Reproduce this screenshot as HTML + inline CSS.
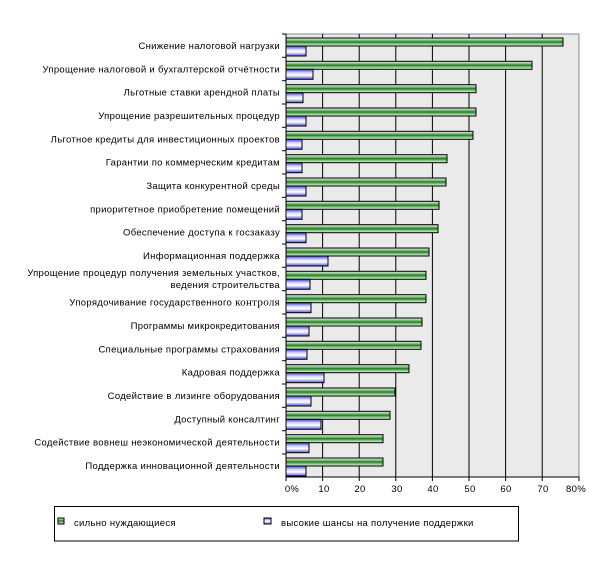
<!DOCTYPE html>
<html><head><meta charset="utf-8"><style>
html,body{margin:0;padding:0;background:#fff;width:601px;height:572px;overflow:hidden}
svg text{font-family:"Liberation Sans",Arial,sans-serif;font-size:9.5px;fill:#000;letter-spacing:0.3px}
</style></head><body>
<svg width="601" height="572" viewBox="0 0 601 572" xmlns="http://www.w3.org/2000/svg">
<defs>
<linearGradient id="g" x1="0" y1="0" x2="0" y2="1">
<stop offset="0" stop-color="#e8f5e8"/><stop offset="0.3" stop-color="#7fbf7f"/><stop offset="0.5" stop-color="#1f7a1f"/><stop offset="0.7" stop-color="#7fbf7f"/><stop offset="1" stop-color="#e8f5e8"/>
</linearGradient>
<linearGradient id="b" x1="0" y1="0" x2="0" y2="1">
<stop offset="0" stop-color="#3a3ad8"/><stop offset="0.35" stop-color="#d8d8ff"/><stop offset="0.6" stop-color="#ffffff"/><stop offset="1" stop-color="#5050e0"/>
</linearGradient>
</defs>
<rect x="286" y="34" width="293" height="443" fill="#eaeaea" stroke="#888" stroke-width="1"/>
<g stroke="#000" stroke-width="1">
<line x1="322.6" y1="34" x2="322.6" y2="477"/><line x1="359.2" y1="34" x2="359.2" y2="477"/>
<line x1="395.8" y1="34" x2="395.8" y2="477"/><line x1="432.4" y1="34" x2="432.4" y2="477"/>
<line x1="469" y1="34" x2="469" y2="477"/><line x1="505.6" y1="34" x2="505.6" y2="477"/>
<line x1="542.2" y1="34" x2="542.2" y2="477"/>
<line x1="286" y1="34" x2="286" y2="477"/><line x1="286" y1="477" x2="579" y2="477"/>
</g>
<g stroke="#000" stroke-width="1">
<line x1="282" y1="34" x2="286" y2="34"/><line x1="282" y1="57.3" x2="286" y2="57.3"/><line x1="282" y1="80.7" x2="286" y2="80.7"/><line x1="282" y1="104" x2="286" y2="104"/><line x1="282" y1="127.3" x2="286" y2="127.3"/><line x1="282" y1="150.7" x2="286" y2="150.7"/><line x1="282" y1="174" x2="286" y2="174"/><line x1="282" y1="197.3" x2="286" y2="197.3"/><line x1="282" y1="220.7" x2="286" y2="220.7"/><line x1="282" y1="244" x2="286" y2="244"/><line x1="282" y1="267.3" x2="286" y2="267.3"/><line x1="282" y1="290.7" x2="286" y2="290.7"/><line x1="282" y1="314" x2="286" y2="314"/><line x1="282" y1="337.3" x2="286" y2="337.3"/><line x1="282" y1="360.7" x2="286" y2="360.7"/><line x1="282" y1="384" x2="286" y2="384"/><line x1="282" y1="407.3" x2="286" y2="407.3"/><line x1="282" y1="430.7" x2="286" y2="430.7"/><line x1="282" y1="454" x2="286" y2="454"/>
<line x1="286" y1="477" x2="286" y2="481"/><line x1="322.6" y1="477" x2="322.6" y2="481"/><line x1="359.2" y1="477" x2="359.2" y2="481"/><line x1="395.8" y1="477" x2="395.8" y2="481"/><line x1="432.4" y1="477" x2="432.4" y2="481"/><line x1="469" y1="477" x2="469" y2="481"/><line x1="505.6" y1="477" x2="505.6" y2="481"/><line x1="542.2" y1="477" x2="542.2" y2="481"/><line x1="579" y1="477" x2="579" y2="481"/>
</g>
<g stroke="#000" stroke-width="1" fill="url(#g)">
<rect x="286" y="38" width="277" height="8"/><rect x="286" y="61.3" width="246" height="8"/><rect x="286" y="84.7" width="190" height="8"/><rect x="286" y="108" width="190" height="8"/><rect x="286" y="131.3" width="187" height="8"/><rect x="286" y="154.7" width="161" height="8"/><rect x="286" y="178" width="160" height="8"/><rect x="286" y="201.3" width="153" height="8"/><rect x="286" y="224.7" width="152" height="8"/><rect x="286" y="248" width="143" height="8"/><rect x="286" y="271.3" width="140" height="8"/><rect x="286" y="294.7" width="140" height="8"/><rect x="286" y="318" width="136" height="8"/><rect x="286" y="341.3" width="135" height="8"/><rect x="286" y="364.7" width="123" height="8"/><rect x="286" y="388" width="109" height="8"/><rect x="286" y="411.3" width="104" height="8"/><rect x="286" y="434.7" width="97" height="8"/><rect x="286" y="458" width="97" height="8"/>
</g>
<g stroke="#000" stroke-width="1" fill="url(#b)">
<rect x="286" y="46" width="20" height="10"/><rect x="286" y="69.3" width="27" height="10"/><rect x="286" y="92.7" width="17" height="10"/><rect x="286" y="116" width="20" height="10"/><rect x="286" y="139.3" width="16" height="10"/><rect x="286" y="162.7" width="16" height="10"/><rect x="286" y="186" width="20" height="10"/><rect x="286" y="209.3" width="16" height="10"/><rect x="286" y="232.7" width="20" height="10"/><rect x="286" y="256" width="42" height="10"/><rect x="286" y="279.3" width="24" height="10"/><rect x="286" y="302.7" width="25" height="10"/><rect x="286" y="326" width="23" height="10"/><rect x="286" y="349.3" width="21" height="10"/><rect x="286" y="372.7" width="38" height="10"/><rect x="286" y="396" width="25" height="10"/><rect x="286" y="419.3" width="35" height="10"/><rect x="286" y="442.7" width="23" height="10"/><rect x="286" y="466" width="20" height="10"/>
</g>
<g text-anchor="end">
<text x="280" y="49">Снижение налоговой нагрузки</text>
<text x="280" y="72.3">Упрощение налоговой и бухгалтерской отчётности</text>
<text x="280" y="95.7">Льготные ставки арендной платы</text>
<text x="280" y="119">Упрощение разрешительных процедур</text>
<text x="280" y="142.3">Льготное кредиты для инвестиционных проектов</text>
<text x="280" y="165.7">Гарантии по коммерческим кредитам</text>
<text x="280" y="189">Защита конкурентной среды</text>
<text x="280" y="212.3">приоритетное приобретение помещений</text>
<text x="280" y="235.7">Обеспечение доступа к госзаказу</text>
<text x="280" y="259">Информационная поддержка</text>
<text x="280" y="276">Упрощение процедур получения земельных участков,</text>
<text x="280" y="288">ведения строительства</text>
<text x="280" y="305.7">Упорядочивание государственного <tspan style="font-family:'Liberation Serif',serif;font-size:11px">контроля</tspan></text>
<text x="280" y="329">Программы микрокредитования</text>
<text x="280" y="352.3">Специальные программы страхования</text>
<text x="280" y="375.7">Кадровая поддержка</text>
<text x="280" y="399">Содействие в лизинге оборудования</text>
<text x="280" y="422.3">Доступный консалтинг</text>
<text x="280" y="445.7">Содействие вовнеш неэкономической деятельности</text>
<text x="280" y="469">Поддержка инновационной деятельности</text>
</g>
<g text-anchor="middle">
<text x="292" y="492">0%</text><text x="324" y="492">10</text><text x="360" y="492">20</text><text x="397" y="492">30</text><text x="433" y="492">40</text><text x="470" y="492">50</text><text x="506" y="492">60</text><text x="543" y="492">70</text><text x="576" y="492">80%</text>
</g>
<rect x="54.5" y="506.5" width="464" height="34.5" fill="#fff" stroke="#000" stroke-width="1"/>
<rect x="58" y="518" width="6" height="6" fill="url(#g)" stroke="#000" stroke-width="1"/>
<text x="74" y="526">сильно нуждающиеся</text>
<rect x="264" y="518" width="7" height="6" fill="url(#b)" stroke="#000" stroke-width="1"/>
<text x="281" y="526">высокие шансы на получение поддержки</text>
</svg>
</body></html>
